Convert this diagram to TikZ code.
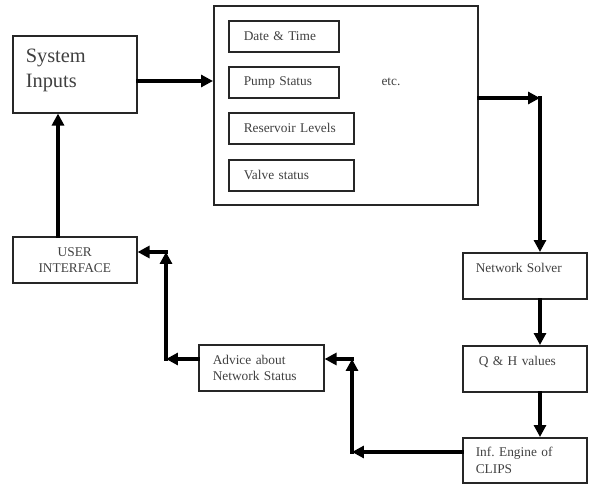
\documentclass[tikz,border=0pt]{standalone}
\usepackage{fontspec}
\setmainfont{Liberation Serif}
\usetikzlibrary{arrows.meta}
\frenchspacing

\begin{document}
\begin{tikzpicture}[x=0.025cm,y=-0.025cm,
	box/.style={draw=black!85,line width=1.1pt,anchor=north west,inner ysep=0pt,align=left,text=black!75,font=\fontsize{9.5}{11.5}\selectfont},
	flow/.style={line width=2.6pt,line cap=rect,-{Triangle[length=8.5pt,width=8.5pt]}}]
	\useasboundingbox (0,0) rectangle (594,486);
	% system inputs
	\node[box,minimum width=3.1cm,minimum height=1.925cm,inner xsep=0.325cm,text width=2.45cm,text height=10pt,text depth=26.8pt,font=\fontsize{14.5}{17.8}\selectfont] (sys) at (12,35) {System\\Inputs};
	% inputs panel
	\node[box,minimum width=6.6cm,minimum height=4.975cm] (panel) at (213,5) {};
	\node[box,minimum width=2.75cm,minimum height=0.775cm,inner xsep=0.375cm,text width=2cm] (date) at (228,20) {Date \& Time};
	\node[box,minimum width=2.75cm,minimum height=0.775cm,inner xsep=0.375cm,text width=2cm] (pump) at (228,66) {Pump Status};
	\node[box,minimum width=3.125cm,minimum height=0.775cm,inner xsep=0.375cm,text width=2.375cm] (res) at (228,112) {Reservoir Levels};
	\node[box,minimum width=3.125cm,minimum height=0.775cm,inner xsep=0.375cm,text width=2.375cm] (valve) at (228,159) {Valve status};
	\node[text=black!75,font=\fontsize{9.5}{11.5}\selectfont] (etc) at (391,82) {etc.};
	% solver chain
	\node[box,minimum width=3.1cm,minimum height=1.15cm,inner xsep=0.325cm,text width=2.45cm,text height=7pt,text depth=11.8pt] (ns) at (462,252) {Network Solver};
	\node[box,minimum width=3.1cm,minimum height=1.15cm,inner xsep=0.4cm,text width=2.3cm,text height=7pt,text depth=11.8pt] (qh) at (462,345) {Q \& H values};
	\node[box,minimum width=3.1cm,minimum height=1.125cm,inner xsep=0.325cm,text width=2.45cm] (inf) at (462,437) {Inf. Engine of\\CLIPS};
	% output side
	\node[box,minimum width=3.125cm,minimum height=1.15cm,inner xsep=0.35cm,text width=2.425cm] (adv) at (198,344) {Advice about\\Network Status};
	\node[box,minimum width=3.1cm,minimum height=1.15cm,inner xsep=0.325cm,text width=2.45cm,align=center] (ui) at (12,236) {USER\\INTERFACE};
	% arrows
	\draw[flow] (sys.east |- 0,81) -- (panel.west |- 0,81);
	\coordinate (c1) at (540,98);
	\draw[flow] (panel.east |- c1) -- (c1);
	\draw[flow] (c1) -- (c1 |- ns.north);
	\draw[flow] (ns.south -| c1) -- (qh.north -| c1);
	\draw[flow] (qh.south -| c1) -- (inf.north -| c1);
	% back to the user
	\coordinate (c2) at (352,452);
	\coordinate (c3) at (352,359);
	\draw[flow] (inf.west |- c2) -- (c2);
	\draw[flow] (c2) -- (c3);
	\draw[flow] (c3) -- (c3 -| adv.east);
	\coordinate (c4) at (166,359);
	\coordinate (c5) at (166,252);
	\draw[flow] (adv.west |- c4) -- (c4);
	\draw[flow] (c4) -- (c5);
	\draw[flow] (c5) -- (c5 -| ui.east);
	\draw[flow] (ui.north -| 58,0) -- (sys.south -| 58,0);
\end{tikzpicture}
\end{document}
